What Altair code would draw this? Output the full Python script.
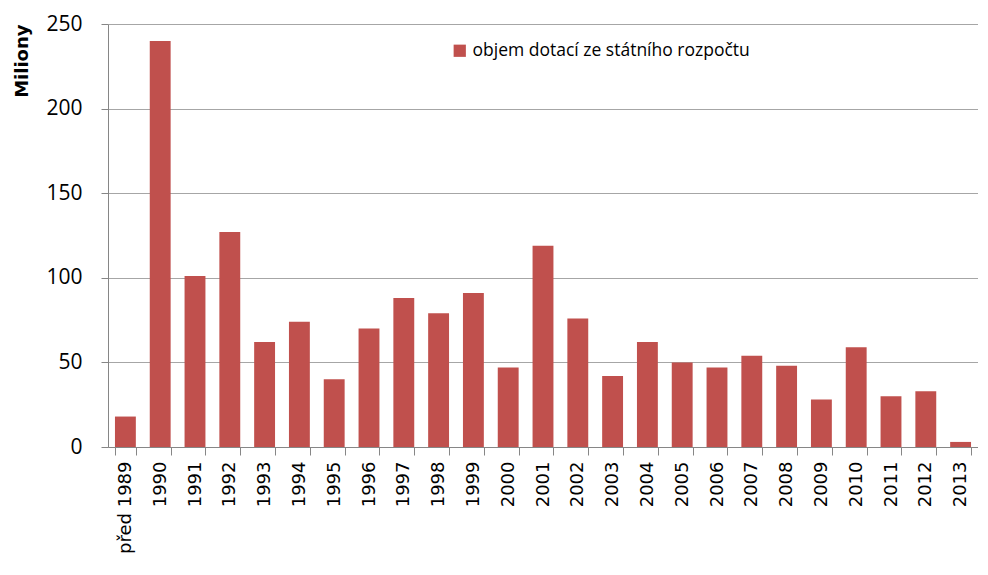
import altair as alt
import pandas as pd

categories = ["před 1989", "1990", "1991", "1992", "1993", "1994", "1995", "1996", "1997",
              "1998", "1999", "2000", "2001", "2002", "2003", "2004", "2005", "2006", "2007",
              "2008", "2009", "2010", "2011", "2012", "2013"]
values = [18, 240, 101, 127, 62, 74, 40, 70, 88, 79, 91, 47, 119, 76, 42, 62, 50, 47, 54,
          48, 28, 59, 30, 33, 3]
series_name = "objem dotací ze státního rozpočtu"

df = pd.DataFrame({"rok": categories, "hodnota": values, "serie": series_name})

chart = alt.Chart(df).mark_bar(color="#C0504D").encode(
    x=alt.X("rok:N", sort=categories, title=None,
            scale=alt.Scale(paddingInner=0.4, paddingOuter=0.2),
            axis=alt.Axis(labelAngle=-90, labelFontSize=18, labelFont="DejaVu Sans",
                          labelColor="#000000", tickBand="extent", tickSize=8,
                          domainColor="#868686", tickColor="#868686", labelPadding=6,
                          labelBaseline="middle", labelAlign="right")),
    y=alt.Y("hodnota:Q", title="Miliony",
            scale=alt.Scale(domain=[0, 250]),
            axis=alt.Axis(values=[0, 50, 100, 150, 200, 250], labelFontSize=21,
                          labelFont="Open Sans", labelColor="#000000",
                          titleFontSize=18, titleFont="DejaVu Sans", titleFontWeight="bold",
                          titleColor="#000000", titlePadding=14, titleAnchor="end",
                          gridColor="#A6A6A6", gridWidth=1, tickSize=7,
                          domainColor="#868686", tickColor="#868686", labelPadding=19)),
    fill=alt.Fill("serie:N", scale=alt.Scale(range=["#C0504D"]),
                  legend=alt.Legend(title=None, orient="none", legendX=343, legendY=18,
                                    labelFontSize=17.5, labelFont="Open Sans", labelLimit=0,
                                    labelColor="#000000", symbolType="square",
                                    symbolSize=150, symbolStrokeWidth=0)),
).properties(
    width=870, height=423,
    padding={"left": 5, "top": 5, "right": 0, "bottom": 5},
).configure_view(stroke=None)

chart.save("out.html", embed_options={"renderer": "svg", "actions": False})
